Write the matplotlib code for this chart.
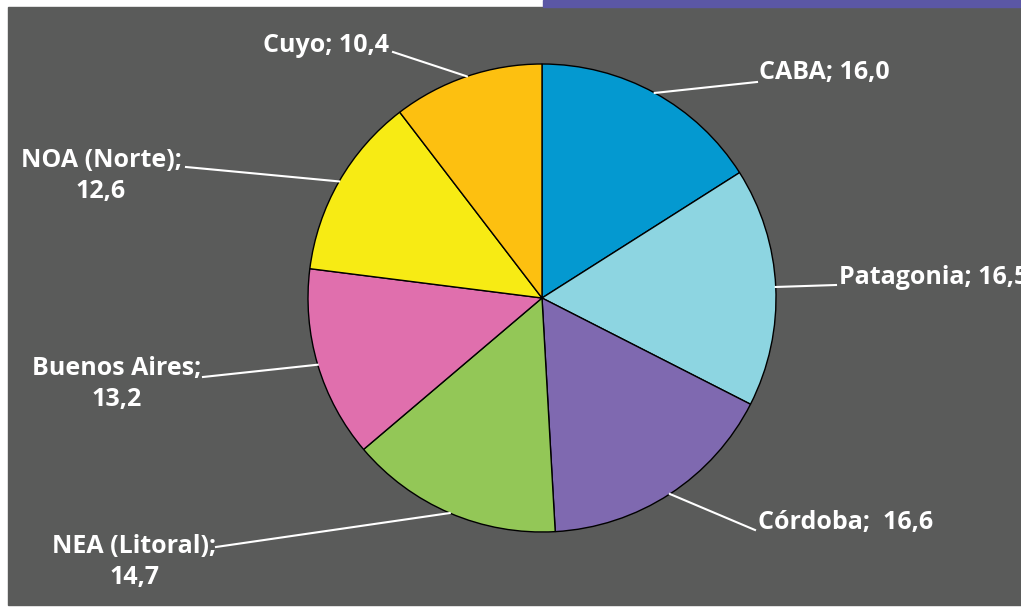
import matplotlib
matplotlib.use("Agg")
import matplotlib.pyplot as plt
import numpy as np
from matplotlib.patches import Rectangle

regions = ["CABA", "Patagonia", "Córdoba", "NEA (Litoral)", "Buenos Aires", "NOA (Norte)", "Cuyo"]
values = [16.0, 16.5, 16.6, 14.7, 13.2, 12.6, 10.4]
colors = ["#0499d0", "#8dd5e1", "#7f69b0", "#93c757", "#e06fad", "#f7eb14", "#fdc010"]

# label layout in figure pixels (y from top): line end, text anchor, alignment
label_end = [(757, 82), (836, 285), (755, 530), (216, 547), (203, 377), (186, 167), (393, 52)]
label_pos = [(759, 73), (839, 277), (758, 522), (134, 562), (117, 384), (101, 176), (389, 46)]
label_ha = ["left", "left", "left", "center", "center", "center", "right"]
two_line = [False, False, False, True, True, True, False]
label_sep = ["; ", "; ", ";  ", ";\n", ";\n", ";\n", "; "]

W, H = 1021, 607
fig = plt.figure(figsize=(W / 100, H / 100), dpi=100)
fig.patch.set_facecolor("white")
ax = fig.add_axes([0, 0, 1, 1])
ax.set_xlim(0, W)
ax.set_ylim(0, H)
ax.axis("off")

# background panel + purple strip at the top
ax.add_patch(Rectangle((8, H - 605), W - 8, 605 - 7, color="#5a5b5a", zorder=0))
ax.add_patch(Rectangle((543, H - 7), W - 543, 7, color="#5b57a5", zorder=0))

cx, cy, r = 542, H - 298, 234
wedges, _ = ax.pie(values, colors=colors, startangle=90, counterclock=False,
                   center=(cx, cy), radius=r, frame=True,
                   wedgeprops=dict(edgecolor="black", linewidth=1.0))
ax.set_xlim(0, W)
ax.set_ylim(0, H)
ax.set_aspect("auto")
ax.axis("off")

for i, w in enumerate(wedges):
    ang = np.deg2rad((w.theta1 + w.theta2) / 2)
    x0, y0 = cx + r * np.cos(ang), cy + r * np.sin(ang)
    ex, ey = label_end[i]
    ax.plot([x0, ex], [y0, H - ey], color="white", lw=1.5, zorder=3)
    val = f"{values[i]:.1f}".replace(".", ",")
    txt = regions[i] + label_sep[i] + val
    tx, ty = label_pos[i]
    ax.text(tx, H - ty, txt, color="white", fontsize=18, fontweight="bold",
            family="Open Sans", ha=label_ha[i], va="center", multialignment="center",
            linespacing=1.3, zorder=4)

fig.savefig("out.png", dpi=100, facecolor=fig.get_facecolor())
